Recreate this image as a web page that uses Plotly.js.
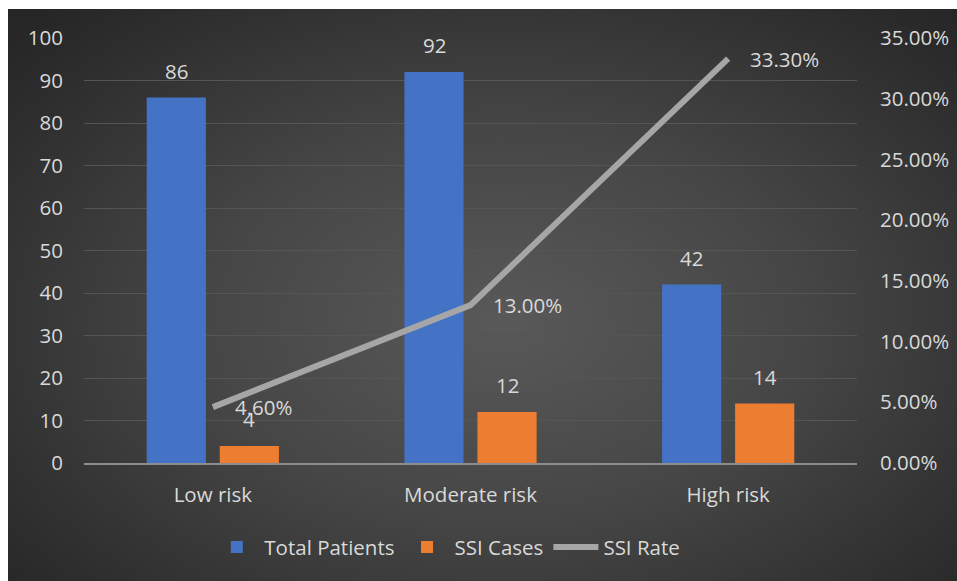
<!DOCTYPE html>
<html>
<head>
<meta charset="utf-8">
<script src="https://cdn.plot.ly/plotly-3.0.1.min.js"></script>
<style>
  html, body { margin: 0; padding: 0; background: #ffffff; }
  #bg { position: absolute; left: 8px; top: 9px; width: 949px; height: 572px;
        background: radial-gradient(ellipse 70% 75% at 52% 55%, #595959 0%, #464646 45%, #2e2e2e 85%, #262626 100%); }
  #chart { position: absolute; left: 0; top: 0; width: 957px; height: 581px; }
</style>
</head>
<body>
<div id="bg"></div>
<div id="chart"></div>
<script>
const categories = ["Low risk", "Moderate risk", "High risk"];
const totalPatients = [86, 92, 42];
const ssiCases = [4, 12, 14];
const ssiRate = [0.046, 0.13, 0.333];
const ssiRateLabels = ["4.60%", "13.00%", "33.30%"];
const leftTicks = [0, 10, 20, 30, 40, 50, 60, 70, 80, 90, 100];
const rightTicks = [0, 0.05, 0.10, 0.15, 0.20, 0.25, 0.30, 0.35];
const rightTickLabels = ["0.00%", "5.00%", "10.00%", "15.00%", "20.00%", "25.00%", "30.00%", "35.00%"];

const FONT = "Open Sans, Noto Sans, sans-serif";
const TXT = "#d9d9d9";
const FS = 20.5;

const traces = [
  { type: "bar", name: "Total Patients", x: categories, y: totalPatients,
    marker: { color: "#4472c4" }, hoverinfo: "skip" },
  { type: "bar", name: "SSI Cases", x: categories, y: ssiCases,
    marker: { color: "#ed7d31" }, hoverinfo: "skip" },
  { type: "scatter", mode: "lines", name: "SSI Rate", x: categories, y: ssiRate, yaxis: "y2",
    line: { color: "#a6a6a6", width: 6 }, hoverinfo: "skip" }
];

const annotations = [];
categories.forEach((c, i) => {
  annotations.push({ x: c, y: totalPatients[i], xref: "x", yref: "y", text: String(totalPatients[i]),
    showarrow: false, xshift: -36.5, yanchor: "bottom", yshift: 11, font: { family: FONT, size: FS, color: TXT } });
  annotations.push({ x: c, y: ssiCases[i], xref: "x", yref: "y", text: String(ssiCases[i]),
    showarrow: false, xshift: 36.5, yanchor: "bottom", yshift: 11, font: { family: FONT, size: FS, color: TXT } });
  annotations.push({ x: c, y: ssiRate[i], xref: "x", yref: "y2", text: ssiRateLabels[i],
    showarrow: false, xanchor: "left", xshift: 20, yanchor: "middle", font: { family: FONT, size: FS, color: TXT } });
});

const layout = {
  width: 957, height: 581,
  paper_bgcolor: "rgba(0,0,0,0)", plot_bgcolor: "rgba(0,0,0,0)",
  margin: { l: 84, r: 100, t: 38, b: 118, pad: 0 },
  font: { family: FONT, size: FS, color: TXT },
  barmode: "group", bargap: 0.433, bargroupgap: 0.19,
  showlegend: true,
  legend: { orientation: "h", x: 0.47, xanchor: "center", y: -0.198, yanchor: "middle",
            font: { family: FONT, size: FS, color: TXT }, traceorder: "normal", itemwidth: 45 },
  xaxis: { type: "category", showgrid: false, zeroline: false, showline: true, linecolor: "#8c8c8c", linewidth: 2,
           ticks: "", tickfont: { size: FS, color: TXT }, ticklabelstandoff: 12, fixedrange: true },
  yaxis: { range: [0, 100], tickvals: leftTicks, showgrid: true, gridcolor: "#555555", gridwidth: 1,
           zeroline: false, showline: false, ticks: "", tickfont: { size: FS, color: TXT },
           ticklabelstandoff: 20, fixedrange: true },
  yaxis2: { overlaying: "y", side: "right", range: [0, 0.35], tickvals: rightTicks, ticktext: rightTickLabels,
            showgrid: false, zeroline: false, showline: false, ticks: "", tickfont: { size: FS, color: TXT },
            ticklabelstandoff: 22, fixedrange: true },
  annotations: annotations
};

Plotly.newPlot("chart", traces, layout, { displayModeBar: false, staticPlot: true });
</script>
</body>
</html>
